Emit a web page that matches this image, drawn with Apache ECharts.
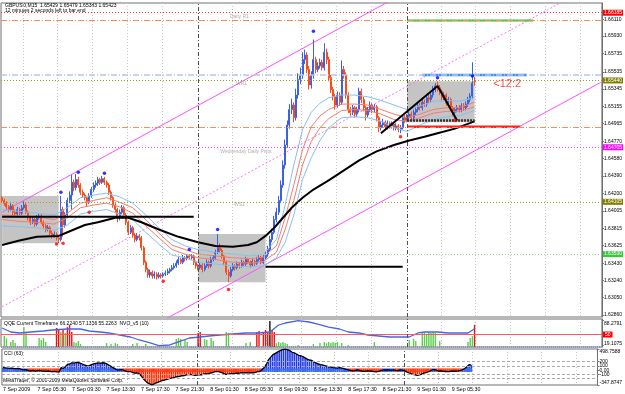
<!DOCTYPE html>
<html><head><meta charset="utf-8">
<script src="https://cdn.jsdelivr.net/npm/echarts@6/dist/echarts.min.js"></script>
<style>html,body{margin:0;padding:0;background:#fff}#c{width:625px;height:394px}</style>
</head><body><div id="c"></div>
<script>
// ---------- DATA ----------
const symbolName = 'GBPUSD,M15';
const timerText = '12 minutes 2 seconds left to bar end';
const firstDay = 7, firstBarMinute = 90, slotCount = 276;

const opens = [
1.6415,1.6412,1.6409,1.6405,1.6402,1.6406,1.6399,1.6397,1.6402,1.6398,
1.6404,1.6407,1.6399,1.6393,1.6388,1.6391,1.6386,1.6393,1.6395,1.6388,
1.6384,1.6380,1.6382,1.6376,1.6373,1.6375,1.6371,1.6369,1.6402,1.6385,
1.6396,1.6412,1.6418,1.6432,1.6426,1.6435,1.6429,1.6421,1.6418,1.6415,
1.6410,1.6417,1.6424,1.6429,1.6431,1.6435,1.6432,1.6436,1.6432,1.6429,
1.6421,1.6415,1.6407,1.6402,1.6393,1.6399,1.6404,1.6396,1.6388,1.6377,
1.6382,1.6374,1.6369,1.6373,1.6371,1.6360,1.6344,1.6336,1.6330,1.6333,
1.6329,1.6331,1.6328,1.6330,1.6329,1.6331,1.6332,1.6334,1.6336,1.6338,
1.6340,1.6343,1.6347,1.6344,1.6349,1.6348,1.6351,1.6349,1.6351,1.6344,
1.6340,1.6338,1.6341,1.6336,1.6340,1.6344,1.6340,1.6347,1.6349,1.6355,
1.6360,1.6357,1.6351,1.6344,1.6333,1.6329,1.6336,1.6340,1.6338,1.6342,
1.6340,1.6344,1.6342,1.6347,1.6344,1.6341,1.6345,1.6343,1.6347,1.6349,
1.6344,1.6349,1.6352,1.6358,1.6369,1.6377,1.6391,1.6399,1.6412,1.6429,
1.6451,1.6473,1.6495,1.6512,1.6517,1.6503,1.6528,1.6545,1.6550,1.6567,
1.6572,1.6556,1.6539,1.6550,1.6567,1.6556,1.6560,1.6564,1.6558,1.6575,
1.6567,1.6547,1.6534,1.6526,1.6517,1.6528,1.6520,1.6556,1.6550,1.6528,
1.6512,1.6509,1.6514,1.6507,1.6512,1.6532,1.6523,1.6514,1.6506,1.6512,
1.6517,1.6512,1.6515,1.6503,1.6492,1.6495,1.6498,1.6493,1.6497,1.6494,
1.6496,1.6492,1.6494,1.6490,1.6492,1.6503,1.6500,1.6504,1.6507,1.6503,
1.6509,1.6512,1.6516,1.6514,1.6520,1.6518,1.6525,1.6523,1.6528,1.6534,
1.6538,1.6536,1.6532,1.6525,1.6528,1.6519,1.6523,1.6514,1.6509,1.6512,
1.6514,1.6512,1.6516,1.6514,1.6518,1.6523,1.6527,1.65429];
const highs = [
1.6417,1.6414,1.6411,1.6407,1.6409,1.6408,1.6402,1.6405,1.6404,1.6407,
1.6411,1.6409,1.6401,1.6395,1.6394,1.6393,1.6396,1.6398,1.6397,1.6390,
1.6386,1.6385,1.6384,1.6379,1.6378,1.6377,1.6374,1.6417,1.6405,1.6399,
1.6415,1.6422,1.6440,1.6435,1.6441,1.6438,1.6431,1.6424,1.6420,1.6417,
1.6420,1.6427,1.6432,1.6434,1.6438,1.6437,1.6439,1.6438,1.6434,1.6431,
1.6423,1.6417,1.6409,1.6404,1.6402,1.6407,1.6406,1.6398,1.6390,1.6385,
1.6384,1.6376,1.6376,1.6375,1.6373,1.6362,1.6346,1.6338,1.6336,1.6335,
1.6334,1.6333,1.6333,1.6332,1.6333,1.6335,1.6337,1.6338,1.6341,1.6343,
1.6346,1.6350,1.6349,1.6352,1.6351,1.6353,1.6353,1.6353,1.6352,1.6346,
1.6342,1.6344,1.6343,1.6343,1.6347,1.6346,1.6350,1.6352,1.6358,1.6375,
1.6365,1.6359,1.6353,1.6346,1.6336,1.6339,1.6343,1.6342,1.6345,1.6344,
1.6347,1.6346,1.6350,1.6349,1.6346,1.6348,1.6347,1.6350,1.6352,1.6351,
1.6352,1.6356,1.6362,1.6373,1.6381,1.6395,1.6404,1.6417,1.6434,1.6456,
1.6479,1.6500,1.6518,1.6524,1.6520,1.6535,1.6552,1.6558,1.6575,1.6578,
1.6575,1.6560,1.6554,1.6589,1.6570,1.6564,1.6568,1.6567,1.6585,1.6579,
1.6570,1.6550,1.6537,1.6529,1.6532,1.6531,1.6566,1.6560,1.6553,1.6531,
1.6515,1.6517,1.6516,1.6515,1.6536,1.6535,1.6526,1.6516,1.6515,1.6521,
1.6519,1.6518,1.6517,1.6505,1.6499,1.6502,1.6500,1.6500,1.6499,1.6499,
1.6498,1.6497,1.6496,1.6495,1.6506,1.6506,1.6507,1.6510,1.6510,1.6512,
1.6515,1.6519,1.6519,1.6523,1.6523,1.6528,1.6528,1.6532,1.6538,1.6541,
1.6543,1.6539,1.6534,1.6531,1.6530,1.6526,1.6525,1.6516,1.6514,1.6517,
1.6517,1.6519,1.6519,1.6521,1.6526,1.6530,1.6564,1.65479];
const lows = [
1.6409,1.6406,1.6402,1.6399,1.6400,1.6396,1.6394,1.6395,1.6396,1.6396,
1.6402,1.6397,1.6390,1.6385,1.6386,1.6383,1.6384,1.6391,1.6386,1.6381,
1.6377,1.6378,1.6374,1.6370,1.6371,1.6368,1.6365,1.6367,1.6372,1.6382,
1.6393,1.6409,1.6402,1.6422,1.6423,1.6426,1.6418,1.6415,1.6412,1.6405,
1.6408,1.6415,1.6421,1.6426,1.6428,1.6429,1.6430,1.6429,1.6426,1.6418,
1.6412,1.6404,1.6398,1.6388,1.6390,1.6397,1.6393,1.6385,1.6374,1.6375,
1.6371,1.6366,1.6367,1.6368,1.6357,1.6341,1.6333,1.6327,1.6327,1.6326,
1.6326,1.6325,1.6326,1.6326,1.6327,1.6329,1.6330,1.6332,1.6334,1.6336,
1.6338,1.6341,1.6342,1.6342,1.6345,1.6346,1.6347,1.6347,1.6341,1.6337,
1.6335,1.6336,1.6333,1.6334,1.6338,1.6337,1.6338,1.6345,1.6347,1.6353,
1.6354,1.6348,1.6341,1.6330,1.6322,1.6327,1.6334,1.6335,1.6336,1.6337,
1.6338,1.6339,1.6340,1.6342,1.6338,1.6339,1.6340,1.6341,1.6345,1.6342,
1.6342,1.6347,1.6350,1.6356,1.6366,1.6375,1.6388,1.6396,1.6409,1.6426,
1.6447,1.6470,1.6491,1.6507,1.6498,1.6500,1.6524,1.6540,1.6546,1.6562,
1.6552,1.6534,1.6535,1.6546,1.6552,1.6553,1.6557,1.6555,1.6555,1.6562,
1.6543,1.6530,1.6522,1.6512,1.6514,1.6516,1.6517,1.6546,1.6524,1.6508,
1.6505,1.6506,1.6503,1.6504,1.6509,1.6519,1.6510,1.6500,1.6503,1.6509,
1.6508,1.6509,1.6499,1.6487,1.6489,1.6492,1.6490,1.6490,1.6491,1.6491,
1.6489,1.6489,1.6487,1.6486,1.6490,1.6497,1.6498,1.6501,1.6500,1.6501,
1.6506,1.6509,1.6511,1.6511,1.6515,1.6515,1.6519,1.6520,1.6525,1.6531,
1.6532,1.6528,1.6521,1.6522,1.6516,1.6516,1.6510,1.6505,1.6502,1.6509,
1.6509,1.6509,1.6511,1.6511,1.6515,1.6520,1.6524,1.65383];
const closes = [
1.6412,1.6409,1.6405,1.6402,1.6406,1.6399,1.6397,1.6402,1.6398,1.6404,
1.6407,1.6399,1.6393,1.6388,1.6391,1.6386,1.6393,1.6395,1.6388,1.6384,
1.6380,1.6382,1.6376,1.6373,1.6375,1.6371,1.6369,1.6402,1.6385,1.6396,
1.6412,1.6418,1.6432,1.6426,1.6435,1.6429,1.6421,1.6418,1.6415,1.6410,
1.6417,1.6424,1.6429,1.6431,1.6435,1.6432,1.6436,1.6432,1.6429,1.6421,
1.6415,1.6407,1.6402,1.6393,1.6399,1.6404,1.6396,1.6388,1.6377,1.6382,
1.6374,1.6369,1.6373,1.6371,1.6360,1.6344,1.6336,1.6330,1.6333,1.6329,
1.6331,1.6328,1.6330,1.6329,1.6331,1.6332,1.6334,1.6336,1.6338,1.6340,
1.6343,1.6347,1.6344,1.6349,1.6348,1.6351,1.6349,1.6351,1.6344,1.6340,
1.6338,1.6341,1.6336,1.6340,1.6344,1.6340,1.6347,1.6349,1.6355,1.6360,
1.6357,1.6351,1.6344,1.6333,1.6329,1.6336,1.6340,1.6338,1.6342,1.6340,
1.6344,1.6342,1.6347,1.6344,1.6341,1.6345,1.6343,1.6347,1.6349,1.6344,
1.6349,1.6352,1.6358,1.6369,1.6377,1.6391,1.6399,1.6412,1.6429,1.6451,
1.6473,1.6495,1.6512,1.6517,1.6503,1.6528,1.6545,1.6550,1.6567,1.6572,
1.6556,1.6539,1.6550,1.6567,1.6556,1.6560,1.6564,1.6558,1.6575,1.6567,
1.6547,1.6534,1.6526,1.6517,1.6528,1.6520,1.6556,1.6550,1.6528,1.6512,
1.6509,1.6514,1.6507,1.6512,1.6532,1.6523,1.6514,1.6506,1.6512,1.6517,
1.6512,1.6515,1.6503,1.6492,1.6495,1.6498,1.6493,1.6497,1.6494,1.6496,
1.6492,1.6494,1.6490,1.6492,1.6503,1.6500,1.6504,1.6507,1.6503,1.6509,
1.6512,1.6516,1.6514,1.6520,1.6518,1.6525,1.6523,1.6528,1.6534,1.6538,
1.6536,1.6532,1.6525,1.6528,1.6519,1.6523,1.6514,1.6509,1.6512,1.6514,
1.6512,1.6516,1.6514,1.6518,1.6523,1.6527,1.6541,1.65423];

const priceTicks = [1.62860,1.63050,1.63240,1.63430,1.63625,1.63815,1.64005,1.64200,1.64390,1.64580,1.64770,1.64965,1.65155,1.65345,1.65535,1.65735,1.65930,1.66110];

// envelope averages, read at sample bars
const envBars = [0,8,16,24,30,36,42,48,54,60,66,72,78,84,90,98,106,114,120,126,130,134,138,142,146,150,156,162,168,174,180,186,192,198,204,210,217];
const envUpperBlue = [1.6402,1.6400,1.6398,1.6396,1.6404,1.6415,1.6418,1.6420,1.6416,1.6409,1.6396,1.6382,1.6369,1.6362,1.6358,1.6355,1.6353,1.6351,1.6353,1.6369,1.6407,1.6451,1.6490,1.6509,1.6519,1.6525,1.6528,1.6528,1.6526,1.6522,1.6517,1.6512,1.6516,1.6521,1.6522,1.6521,1.6525];
const envUpperRed  = [1.6396,1.6395,1.6394,1.6391,1.6398,1.6409,1.6412,1.6415,1.6410,1.6404,1.6391,1.6376,1.6363,1.6358,1.6353,1.6351,1.6349,1.6348,1.6350,1.6362,1.6393,1.6429,1.6468,1.6493,1.6505,1.6512,1.6518,1.6518,1.6517,1.6512,1.6507,1.6503,1.6507,1.6512,1.6514,1.6514,1.6520];
const envLowerRed  = [1.6391,1.6389,1.6388,1.6386,1.6393,1.6404,1.6407,1.6409,1.6405,1.6398,1.6384,1.6371,1.6358,1.6353,1.6349,1.6347,1.6344,1.6343,1.6345,1.6355,1.6380,1.6412,1.6451,1.6477,1.6492,1.6502,1.6511,1.6512,1.6511,1.6507,1.6501,1.6499,1.6503,1.6508,1.6510,1.6510,1.6515];
const envLowerBlue = [1.6384,1.6383,1.6382,1.6379,1.6385,1.6397,1.6400,1.6402,1.6397,1.6391,1.6377,1.6364,1.6352,1.6349,1.6344,1.6342,1.6340,1.6339,1.6340,1.6349,1.6366,1.6396,1.6435,1.6459,1.6478,1.6492,1.6503,1.6504,1.6503,1.6499,1.6492,1.6488,1.6495,1.6501,1.6504,1.6505,1.6511];

// slow moving average (black), read at sample bars
const slowBars = [0,8,16,26,30,38,44,52,58,64,72,81,90,98,106,113,117,121,125,129,133,138,143,150,157,164,172,180,187,194,200,208,217];
const slowMA   = [1.6363,1.6368,1.6372,1.6373,1.6377,1.6385,1.6388,1.6393,1.6393,1.6388,1.6380,1.6372,1.6366,1.6362,1.6361,1.6363,1.6366,1.6373,1.6382,1.6393,1.6404,1.6415,1.6424,1.6434,1.6445,1.6456,1.6466,1.6473,1.6478,1.6482,1.6486,1.6491,1.6499];

// fractals
const upFractals   = [[27,1.6421],[35,1.6443],[47,1.6442],[86,1.6358],[99,1.6380],[143,1.6598],[200,1.6547],[216,1.6549]];
const downFractals = [[25,1.6364],[28,1.6365],[40,1.6399],[74,1.6323],[104,1.6314],[183,1.6482],[208,1.6500]];

// session boxes
const boxStart = [0, 90, 186];
const boxEnd   = [26, 121, 217];
const boxHigh  = [1.6417, 1.6375, 1.6543];
const boxLow   = [1.6365, 1.6322, 1.6498];

// full-width horizontal levels
const levelPrices = [1.66185, 1.66105, 1.65500, 1.65440, 1.64928, 1.64705, 1.64105, 1.63530];

// drawn segments [startBar, endBar, price]
const blackSegments = [[0, 88, 1.6394], [121, 184, 1.6339]];
const boxBaseSegment = [186, 217, 1.6500];
const redSegment = [186, 238, 1.6493];
const greenSegment = [186, 244, 1.6610];
const blueSegment = [193, 241, 1.6550];
const zigzag = [[174, 1.6486], [200, 1.6538], [209, 1.6500]];

// channel
const channelUpper = [[0, 1.6399], [180, 1.6634]];
const channelMid   = [[0, 1.6295], [260, 1.6634]];
const channelLower = [[70, 1.6275], [275, 1.6542]];

// text tags on the price chart
const tagTexts  = ['Daily R1', 'WR1', 'Wednesday Daily Pivot', 'WS1'];
const tagBars   = [109, 110, 112, 109];
const tagPrices = [1.6614, 1.6540, 1.6466, 1.6407];
const countdownText = '<12:2';
const countdownPos = [232, 1.6540];

// QQE + NVO
const qqeBars = [0,4,8,13,19,23,30,36,40,45,49,54,59,63,68,72,77,81,86,91,95,100,106,112,118,123,127,130,136,141,145,150,155,159,164,168,173,178,182,187,191,194,200,205,210,214,217];
const qqeValues = [68.1,57.0,54.3,57.0,59.8,62.6,65.3,65.3,59.8,57.0,54.3,48.7,43.2,34.9,26.6,19.1,21.1,29.4,40.4,43.2,46.0,48.7,51.5,54.3,54.3,57.0,76.4,81.9,88.3,84.7,79.1,70.8,65.3,57.0,54.3,48.7,46.0,43.2,43.2,43.2,54.3,57.0,57.0,54.3,54.3,54.3,66.2];
const qqeTicks = [19.1075, 88.2791];
const qqeLevel = 50;
const qqeTitle = 'QQE Current Timeframe 66.2240 57.1356 55.2263  NVO_v5 (10)';
const nvoGreen = [[1,39],[2,30],[4,18],[5,25],[6,14],[10,71],[11,50],[17,32],[18,25],[19,32],[20,18],[27,54],[29,50],[33,18],[34,14],[35,21],[36,11],[48,14],[50,11],[52,14],[53,11],[60,11],[62,14],[66,11],[80,29],[81,32],[82,29],[84,25],[85,18],[93,29],[94,25],[96,32],[97,21],[103,54],[104,50],[112,14],[114,18],[126,14],[127,18],[128,14],[129,18],[130,14],[131,11],[136,7],[143,11],[146,14],[148,18],[149,14],[150,18],[151,14],[152,18],[153,14],[154,18],[156,14],[159,7],[171,18],[187,25],[189,29],[190,21],[193,50],[194,54],[195,46],[196,54],[197,50],[198,54],[199,50],[201,21],[214,18],[215,32],[216,39]];
const nvoRed = [[25,68],[26,61],[28,64],[30,71],[31,79],[32,54],[90,50],[91,54],[117,54],[118,57],[120,54],[121,61],[122,50],[124,61],[125,54],[217,79]];
const nvoBlack = [[123,93]];

// CCI(63)
const cciValues = [
60,55,50,45,50,40,35,40,30,10,
15,5,-10,-15,-5,-20,-10,-5,-15,-20,
-25,-20,-30,-35,-30,-40,-45,60,40,90,
140,150,175,165,185,180,160,140,120,100,
110,130,150,160,170,165,175,170,150,120,
90,60,30,0,10,15,-5,-20,-40,-30,
-50,-70,-60,-75,-130,-200,-250,-300,-320,-345,
-320,-300,-280,-260,-240,-230,-215,-200,-185,-175,
-160,-150,-145,-130,-125,-110,-105,-100,-110,-120,
-115,-105,-110,-95,-80,-85,-70,-60,-40,-30,
-35,-50,-70,-95,-100,-85,-75,-80,-70,-72,
-60,-65,-55,-60,-65,-55,-60,-50,-35,-30,
10,60,130,240,300,360,390,420,450,470,
490,495,480,460,420,410,380,350,340,320,
290,260,240,230,200,170,150,130,125,110,
95,80,70,60,55,50,60,50,35,20,
5,-5,-15,-10,5,-5,-15,-25,-20,-15,
-20,-25,-35,-40,-30,-10,0,5,10,5,
0,5,-5,-10,5,0,-10,-40,-60,-80,
-100,-110,-120,-110,-90,-70,-55,-40,-20,10,
15,-5,-20,-15,-25,-30,-35,-30,-20,-25,
-20,-15,-5,10,40,80,130,120];
const cciTicks = [-347.8747, -100, 0, 100, 200, 498.7588];
const cciLevels = [200, 100, -100, -200];
const cciTitle = 'CCI (63)';
const copyright = 'MetaTrader, \u00a9 2001-2009 MetaQuotes Software Corp.';

// period separators (day starts)
const separatorBars = [90, 186];

// ---------- CHART ----------
const FONT = 'Liberation Sans';
const cats = [];
for (let i = 0; i < slotCount; i++) {
  if (i >= closes.length) { cats.push('s' + i); continue; }
  const m = firstBarMinute + 15 * i;
  const d = firstDay + Math.floor(m / 1440);
  const hh = Math.floor((m % 1440) / 60), mm = m % 60;
  cats.push(i === 0 ? d + ' Sep 2009' : d + ' Sep ' + String(hh).padStart(2, '0') + ':' + String(mm).padStart(2, '0'));
}
const candleData = closes.map((c, i) => [opens[i], c, lows[i], highs[i]]);
const pairs = (xs, ys) => xs.map((x, i) => [x, ys[i]]);
const seg = s => [[s[0], s[2]], [s[1], s[2]]];

const gridSplit = idx => idx % 16 === 10 && separatorBars.indexOf(idx) < 0;
function xAx(gi, showLabels) {
  return {
    type: 'category', gridIndex: gi, data: cats, boundaryGap: true,
    axisLine: { show: false }, axisTick: { show: false },
    axisLabel: showLabels ? {
      show: true, interval: 15, align: 'left', fontSize: 5.3, color: '#000', margin: 2, fontFamily: FONT,
      formatter: (v, idx) => (idx < closes.length ? v : '')
    } : { show: false },
    splitLine: { show: true, interval: gridSplit, lineStyle: { color: '#c4c4c4', type: [1, 2], width: 1 } }
  };
}
const sepLine = () => ({
  symbol: ['none', 'none'], silent: true, label: { show: false },
  lineStyle: { color: '#505050', type: [4, 2, 1, 2], width: 1 },
  data: separatorBars.map(b => ({ xAxis: b }))
});

const levelStyles = [
  { color: '#ff3030', type: [1, 2], box: '#ff0000' },
  { color: '#ff8c50', type: [6, 2, 1, 2] },
  { color: '#b8c4ec', type: [6, 2, 1, 2], width: 1.5 },
  { color: '#a0a020', type: [1, 2], box: '#808000' },
  { color: '#ff8c50', type: [6, 2, 1, 2] },
  { color: '#ff40ff', type: [1, 2], box: '#ff00ff' },
  { color: '#a0a020', type: [1, 2], box: '#808000' },
  { color: '#90e090', type: [1, 2], box: '#33cc33' }
];
const levelMarks = levelPrices.map((p, i) => {
  const s = levelStyles[i];
  return {
    yAxis: p,
    lineStyle: { color: s.color, type: s.type, width: s.width || 1 },
    label: s.box ? { show: true, position: 'end', distance: 1, formatter: p.toFixed(5), backgroundColor: s.box, color: '#fff', fontSize: 5, fontFamily: FONT, padding: [1, 1, 0, 1] } : { show: false }
  };
});

const lineS = (data, color, width, type, z) => ({
  type: 'line', xAxisIndex: 0, yAxisIndex: 0, data, symbol: 'none', silent: true, z: z || 4,
  lineStyle: { color, width, type: type || 'solid' }, connectNulls: true
});

const option = {
  animation: false,
  backgroundColor: '#fff',
  textStyle: { fontFamily: FONT },
  grid: [
    { left: 1, right: 21, top: 3, height: 314, show: true, borderColor: '#707070', borderWidth: 1, backgroundColor: '#fff' },
    { left: 1, right: 21, top: 319, height: 28, show: true, borderColor: '#707070', borderWidth: 1 },
    { left: 1, right: 21, top: 349, height: 36, show: true, borderColor: '#707070', borderWidth: 1 }
  ],
  xAxis: [xAx(0, false), xAx(1, false), xAx(2, true)],
  yAxis: [
    { type: 'value', gridIndex: 0, position: 'right', min: 1.62838, max: 1.66292,
      axisLine: { show: true, lineStyle: { color: '#707070' } },
      axisTick: { show: true, length: 2, customValues: priceTicks, lineStyle: { color: '#707070' } },
      axisLabel: { customValues: priceTicks, formatter: v => v.toFixed(5), fontSize: 5, color: '#000', margin: 2, fontFamily: FONT },
      splitLine: { show: false } },
    { type: 'value', gridIndex: 1, position: 'right', min: 15.5, max: 93,
      axisLine: { show: true, lineStyle: { color: '#707070' } },
      axisTick: { show: true, length: 2, customValues: qqeTicks },
      axisLabel: { customValues: qqeTicks, formatter: v => v.toFixed(4), fontSize: 5, color: '#000', margin: 2, fontFamily: FONT,
        verticalAlignMaxLabel: 'top', verticalAlignMinLabel: 'bottom' },
      splitLine: { show: false } },
    { type: 'value', gridIndex: 1, show: false, min: 0, max: 100 },
    { type: 'value', gridIndex: 2, position: 'right', min: -347.8747, max: 498.7588,
      axisLine: { show: true, lineStyle: { color: '#707070' } },
      axisTick: { show: true, length: 2, customValues: cciTicks },
      axisLabel: { customValues: cciTicks, fontSize: 5, color: '#000', margin: 2, fontFamily: FONT,
        formatter: v => (v === 0 ? '0.00' : (Math.abs(v) > 300 ? v.toFixed(4) : String(v))),
        verticalAlignMaxLabel: 'top', verticalAlignMinLabel: 'bottom' },
      splitLine: { show: false } }
  ],
  series: [
    // boxes + separators + levels
    { type: 'line', xAxisIndex: 0, yAxisIndex: 0, data: [], z: 1, silent: true,
      markArea: { silent: true, itemStyle: { color: '#c4c4c4' },
        data: boxStart.map((b, i) => [{ xAxis: b, yAxis: boxHigh[i] }, { xAxis: boxEnd[i], yAxis: boxLow[i] }]) },
      markLine: sepLine() },
    { type: 'line', xAxisIndex: 0, yAxisIndex: 0, data: [], z: 2, silent: true,
      markLine: { symbol: ['none', 'none'], silent: true, precision: 6, data: levelMarks } },
    // channel
    lineS(channelUpper, '#ff50ff', 1, 'solid', 2),
    lineS(channelMid, '#ff70ff', 1, [2, 2], 2),
    lineS(channelLower, '#ff50ff', 1, 'solid', 2),
    // candles
    { type: 'candlestick', xAxisIndex: 0, yAxisIndex: 0, data: candleData, z: 3, silent: true, barWidth: 1.5,
      itemStyle: { color: '#3a62e6', color0: '#ff4a14', borderColor: '#3a62e6', borderColor0: '#ff4a14', borderWidth: 1 } },
    // envelopes
    lineS(pairs(envBars, envUpperBlue), '#84c0f4', 1),
    lineS(pairs(envBars, envUpperRed), '#f47c70', 1),
    lineS(pairs(envBars, envLowerRed), '#f47c70', 1),
    lineS(pairs(envBars, envLowerBlue), '#84c0f4', 1),
    lineS(pairs(slowBars, slowMA), '#000', 2),
    // segments
    lineS(seg(blackSegments[0]), '#000', 2),
    lineS(seg(blackSegments[1]), '#000', 2),
    lineS(seg(boxBaseSegment), '#303030', 2.5, [2, 1]),
    lineS(seg(redSegment), '#ff2020', 2.5),
    lineS(seg(greenSegment), '#3cc23c', 2),
    lineS(seg(blueSegment), '#3898f0', 2.5),
    lineS(zigzag, '#000', 2, 'solid', 5),
    // fractals
    { type: 'scatter', xAxisIndex: 0, yAxisIndex: 0, data: upFractals, symbolSize: 3.5, z: 6, silent: true, itemStyle: { color: '#0000ff' } },
    { type: 'scatter', xAxisIndex: 0, yAxisIndex: 0, data: downFractals, symbolSize: 3.5, z: 6, silent: true, itemStyle: { color: '#ff0000' } },
    // tags
    { type: 'scatter', xAxisIndex: 0, yAxisIndex: 0, symbolSize: 0, z: 7, silent: true,
      data: tagTexts.map((t, i) => ({ value: [tagBars[i], tagPrices[i]], name: t })),
      label: { show: true, position: 'inside', formatter: p => p.name, color: '#9a9a9a', fontSize: 5, fontFamily: FONT } },
    { type: 'scatter', xAxisIndex: 0, yAxisIndex: 0, symbolSize: 0, z: 7, silent: true,
      data: [{ value: countdownPos, name: countdownText }],
      label: { show: true, position: 'inside', formatter: p => p.name, color: '#ff2020', fontSize: 11, fontFamily: FONT } },

    // ---- QQE panel ----
    { type: 'bar', xAxisIndex: 1, yAxisIndex: 2, data: nvoGreen, barWidth: 1.4, silent: true, itemStyle: { color: '#5ccc4c' },
      markLine: { symbol: ['none', 'none'], silent: true, label: { show: false }, data: [{ yAxis: 0 }], lineStyle: { color: '#8a96c4', type: [1, 1], width: 2 } } },
    { type: 'bar', xAxisIndex: 1, yAxisIndex: 2, data: nvoRed, barWidth: 1.4, barGap: '-100%', silent: true, itemStyle: { color: '#ee1010' } },
    { type: 'bar', xAxisIndex: 1, yAxisIndex: 2, data: nvoBlack, barWidth: 1.4, barGap: '-100%', silent: true, itemStyle: { color: '#111' } },
    { type: 'line', xAxisIndex: 1, yAxisIndex: 1, data: pairs(qqeBars, qqeValues), symbol: 'none', silent: true, z: 4,
      lineStyle: { color: '#4a64e0', width: 1.3 },
      markLine: { symbol: ['none', 'none'], silent: true,
        data: [
          { yAxis: qqeLevel, lineStyle: { color: '#ff5a5a', type: 'solid', width: 1 },
            label: { show: true, position: 'end', distance: 1, formatter: String(qqeLevel), backgroundColor: '#ff0000', color: '#fff', fontSize: 5, padding: [1, 2, 0, 2], fontFamily: FONT } }
        ] } },
    { type: 'line', xAxisIndex: 1, yAxisIndex: 1, data: [], silent: true, markLine: sepLine() },

    // ---- CCI panel ----
    { type: 'bar', xAxisIndex: 2, yAxisIndex: 3, data: cciValues, barCategoryGap: '25%', silent: true,
      itemStyle: { color: p => (p.value >= 0 ? '#2038f0' : '#ff2a00') },
      markLine: { symbol: ['none', 'none'], silent: true, label: { show: false },
        lineStyle: { color: '#a8a8a8', type: [3, 2], width: 1 },
        data: cciLevels.map(v => ({ yAxis: v })) } },
    { type: 'custom', xAxisIndex: 2, yAxisIndex: 3, data: cciValues.map((v, i) => [i, v]), silent: true, z: 3,
      renderItem: (params, api) => {
        const p = api.coord([api.value(0), 0]);
        const w = api.size([1, 0])[0];
        return { type: 'rect', shape: { x: p[0] - w / 2, y: p[1] - 1.8, width: w, height: 3.6 },
          style: { fill: api.value(1) >= 0 ? '#3c6cf0' : '#ff3c14' } };
      } },
    { type: 'line', xAxisIndex: 2, yAxisIndex: 3, data: cciValues, symbol: 'none', silent: true, z: 4,
      lineStyle: { color: '#000', width: 1.3 }, markLine: sepLine() }
  ],
  graphic: [
    { type: 'text', left: 5, top: 3, silent: true,
      style: { text: symbolName + '  ' + opens[opens.length - 1].toFixed(5) + ' ' + highs[highs.length - 1].toFixed(5) + ' ' + lows[lows.length - 1].toFixed(5) + ' ' + closes[closes.length - 1].toFixed(5), fontSize: 5, fontFamily: FONT, fill: '#000' } },
    { type: 'text', left: 5, top: 8.5, silent: true, style: { text: timerText, fontSize: 5, fontFamily: FONT, fill: '#000' } },
    { type: 'text', left: 4, top: 321, silent: true, style: { text: qqeTitle, fontSize: 5, fontFamily: FONT, fill: '#000' } },
    { type: 'text', left: 4, top: 351, silent: true, style: { text: cciTitle, fontSize: 5, fontFamily: FONT, fill: '#000' } },
    { type: 'text', left: 3, top: 378, silent: true, style: { text: copyright, fontSize: 5, fontFamily: FONT, fill: '#000' } }
  ]
};

const chart = echarts.init(document.getElementById('c'), null, { renderer: 'canvas', width: 625, height: 394 });
chart.setOption(option);
</script>
</body></html>
